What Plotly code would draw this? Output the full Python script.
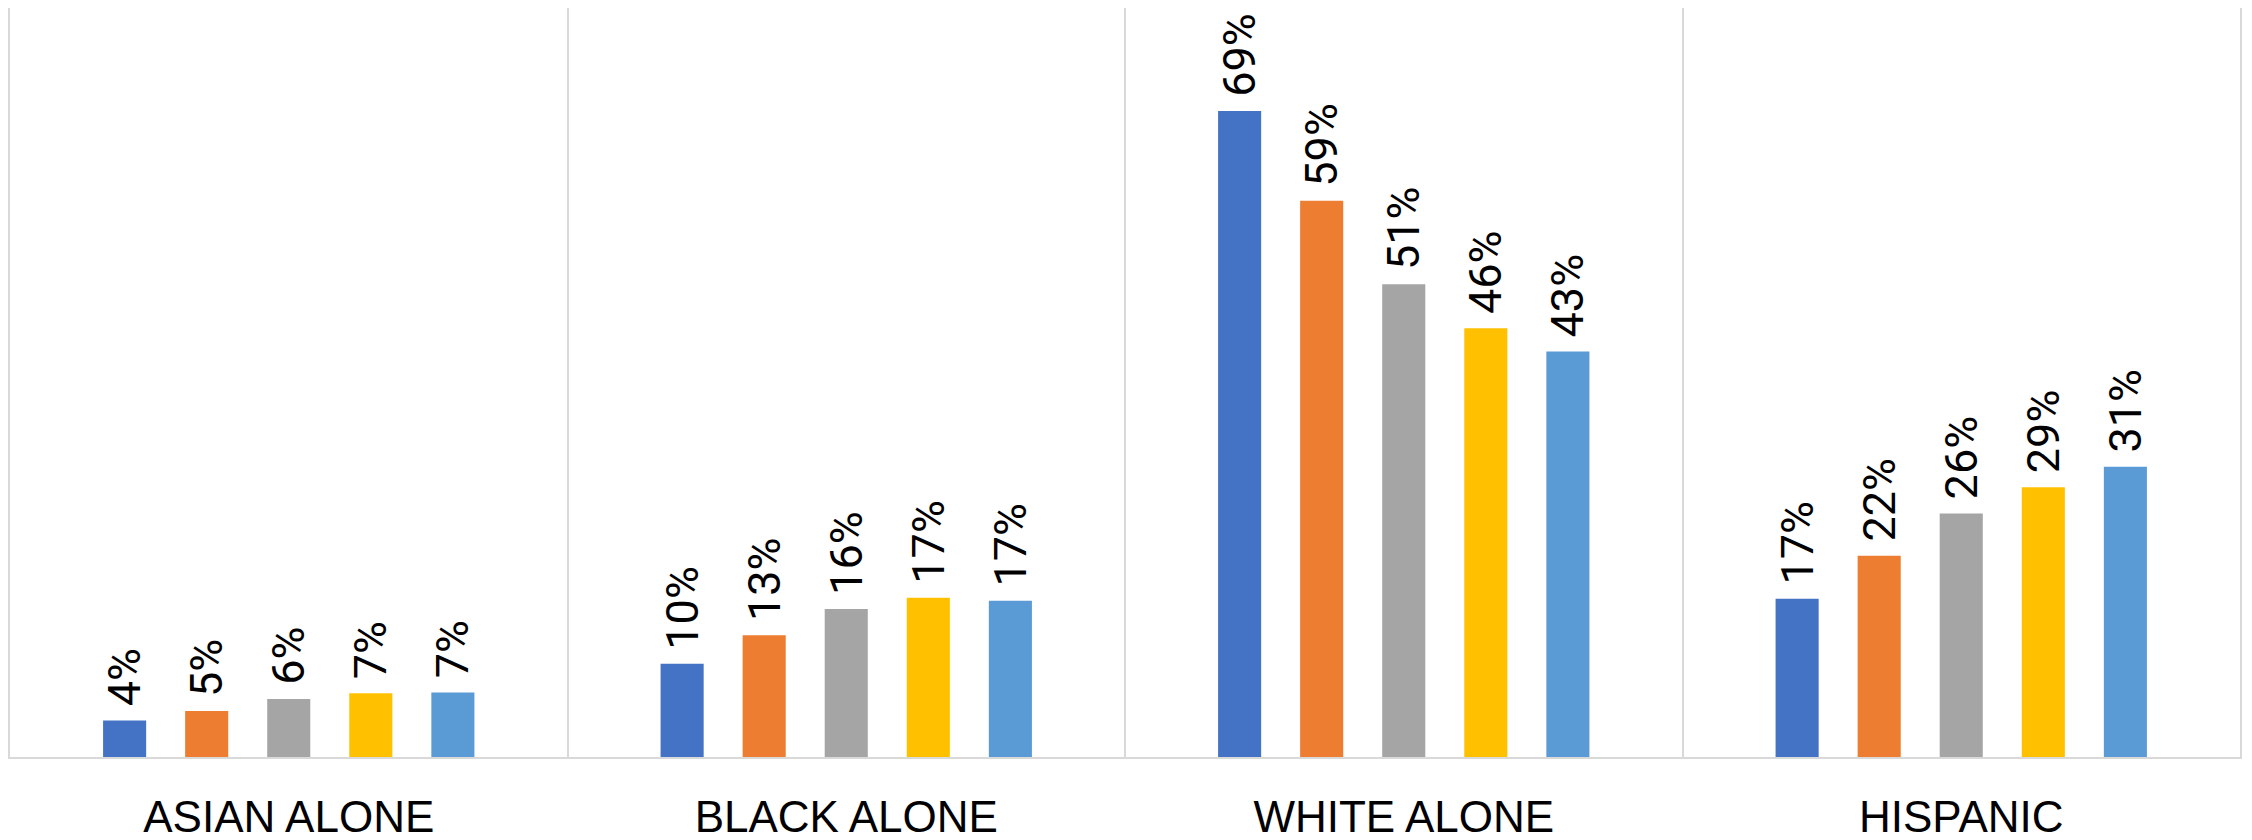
import plotly.graph_objects as go

categories = ["ASIAN ALONE", "BLACK ALONE", "WHITE ALONE", "HISPANIC"]
series_names = ["Series 1", "Series 2", "Series 3", "Series 4", "Series 5"]
series_values = [
    [0.039, 0.0995, 0.690, 0.169],
    [0.049, 0.130, 0.594, 0.215],
    [0.062, 0.158, 0.505, 0.260],
    [0.068, 0.170, 0.458, 0.288],
    [0.069, 0.167, 0.433, 0.310],
]
colors = ["#4472C4", "#ED7D31", "#A5A5A5", "#FFC000", "#5B9BD5"]

fig = go.Figure()
for name, vals, col in zip(series_names, series_values, colors):
    fig.add_trace(go.Bar(
        x=categories, y=vals, name=name,
        marker=dict(color=col, line=dict(width=0)),
        texttemplate="\u00a0%{y:.0%}",
        textposition="outside",
        textangle=-90,
        constraintext="none",
        cliponaxis=False,
        textfont=dict(family="Roboto, sans-serif", size=45, color="#000000"),
    ))

# page body has an 8px default margin: size the figure to the visible area
fig.update_layout(
    width=2244, height=832,
    margin=dict(l=2, r=12, t=0, b=83),
    paper_bgcolor="white", plot_bgcolor="white",
    barmode="group", bargap=0.264, bargroupgap=0.475,
    showlegend=False,
)
fig.update_xaxes(
    automargin=False,
    tickson="boundaries", showgrid=True, gridcolor="#D9D9D9", gridwidth=1.5,
    ticks="", showline=True, linecolor="#D9D9D9", linewidth=2,
    tickfont=dict(family="Liberation Sans, Arial, sans-serif", size=44, color="#000000"),
    ticklabelstandoff=20,
)
fig.update_yaxes(
    automargin=False,
    range=[0, 0.8], showgrid=False, showticklabels=False, ticks="", zeroline=False,
    showline=True, mirror=True, linecolor="#D9D9D9", linewidth=1.5,
)

fig.write_html("out.html")
